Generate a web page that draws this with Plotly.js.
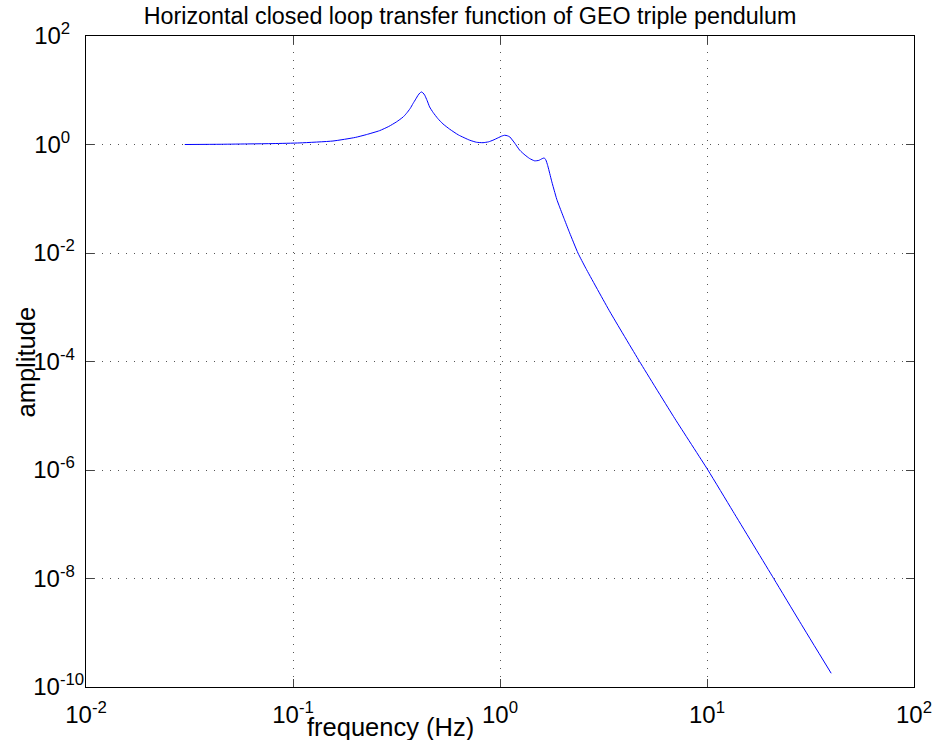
<!DOCTYPE html>
<html>
<head>
<meta charset="utf-8">
<script src="https://cdn.plot.ly/plotly-3.0.1.min.js"></script>
<style>html,body{margin:0;padding:0;background:#fff;}#chart{width:932px;height:740px;}</style>
</head>
<body>
<div id="chart"></div>
<script>
// frequency (Hz)
var freq = [0.03, 0.045, 0.062, 0.08, 0.108, 0.156, 0.2, 0.226, 0.262, 0.29, 0.316, 0.34, 0.353, 0.368, 0.38, 0.392, 0.402, 0.41, 0.417, 0.425, 0.433, 0.445, 0.457, 0.475, 0.501, 0.53, 0.571, 0.63, 0.714, 0.77, 0.828, 0.88, 0.925, 0.98, 1.02, 1.054, 1.085, 1.115, 1.18, 1.245, 1.32, 1.39, 1.47, 1.54, 1.6, 1.635, 1.665, 1.70, 1.74, 1.78, 1.83, 1.88, 1.94, 2.05, 2.17, 2.38, 2.6, 3.4, 4.73, 7.0, 10.1, 13.35, 21.0, 28.05, 39.8];
// amplitude
var amplitude = [1.0, 1.01, 1.026, 1.04, 1.07, 1.16, 1.35, 1.52, 1.8, 2.15, 2.61, 3.2, 3.73, 4.6, 5.69, 6.9, 8.1, 8.9, 9.3, 8.9, 8.1, 6.4, 4.93, 3.9, 3.0, 2.4, 1.92, 1.5, 1.2, 1.1, 1.08, 1.12, 1.2, 1.33, 1.43, 1.48, 1.45, 1.38, 1.05, 0.785, 0.64, 0.552, 0.5, 0.51, 0.55, 0.565, 0.52, 0.41, 0.29, 0.205, 0.14, 0.098, 0.0708, 0.041, 0.0235, 0.01, 0.0052, 8.2e-4, 9.9e-5, 8.8e-6, 1.0e-6, 1.73e-7, 1.0e-8, 1.6e-9, 1.79e-10];

var xTickVals = [0.01, 0.1, 1, 10, 100];
var xTickText = ['10<sup>-2</sup>', '10<sup>-1</sup>', '10<sup>0</sup>', '10<sup>1</sup>', '10<sup>2</sup>'];
var yTickVals = [1e-10, 1e-8, 1e-6, 1e-4, 1e-2, 1, 100];
var yTickText = ['10<sup>-10</sup>', '10<sup>-8\u00a0\u00a0</sup>', '10<sup>-6\u00a0\u00a0</sup>', '10<sup>-4\u00a0\u00a0</sup>', '10<sup>-2\u00a0\u00a0</sup>', '10<sup>0\u00a0\u00a0\u00a0</sup>', '10<sup>2\u00a0\u00a0\u00a0</sup>'];

var titleText = 'Horizontal closed loop transfer function of GEO triple pendulum';
var xLabel = 'frequency (Hz)';
var yLabel = 'amplitude';

var FONT = 'Liberation Sans, Arial, Helvetica, sans-serif';

var trace = {
  x: freq, y: amplitude, type: 'scatter', mode: 'lines',
  line: {color: '#0000ff', width: 1, shape: 'spline', smoothing: 0.5},
  hoverinfo: 'x+y'
};

var axisCommon = {
  type: 'log', tickmode: 'array',
  showline: true, linecolor: '#000', linewidth: 1, mirror: 'allticks',
  ticks: 'inside', ticklen: 8, tickcolor: '#444', tickwidth: 1,
  showgrid: true, gridcolor: '#555', gridwidth: 1, griddash: '1px,7px',
  zeroline: false, ticklabeloverflow: 'allow',
  tickfont: {family: FONT, size: 24, color: '#000'}
};

var layout = {
  width: 932, height: 740,
  margin: {l: 86, r: 18, t: 36, b: 53, pad: 0},
  paper_bgcolor: '#fff', plot_bgcolor: '#fff',
  showlegend: false,
  title: {text: titleText, x: 470/932, xanchor: 'center', y: 1 - 16/740, yanchor: 'middle',
          font: {family: FONT, size: 23.3, color: '#000'}},
  xaxis: Object.assign({}, axisCommon, {range: [-2, 2], tickvals: xTickVals, ticktext: xTickText, ticklabelstandoff: 6}),
  yaxis: Object.assign({}, axisCommon, {range: [-10, 2], tickvals: yTickVals, ticktext: yTickText, ticklabelstandoff: -4}),
  annotations: [
    {text: xLabel, xref: 'paper', yref: 'paper', x: (390-86)/828, y: (687-727)/651,
     xanchor: 'center', yanchor: 'middle', showarrow: false,
     font: {family: FONT, size: 25.5, color: '#000'}},
    {text: yLabel, xref: 'paper', yref: 'paper', x: (25-86)/828, y: (687-362.5)/651, textangle: -90,
     xanchor: 'center', yanchor: 'middle', showarrow: false,
     font: {family: FONT, size: 25.5, color: '#000'}}
  ]
};

Plotly.newPlot('chart', [trace], layout, {displayModeBar: false, staticPlot: true});
</script>
</body>
</html>
